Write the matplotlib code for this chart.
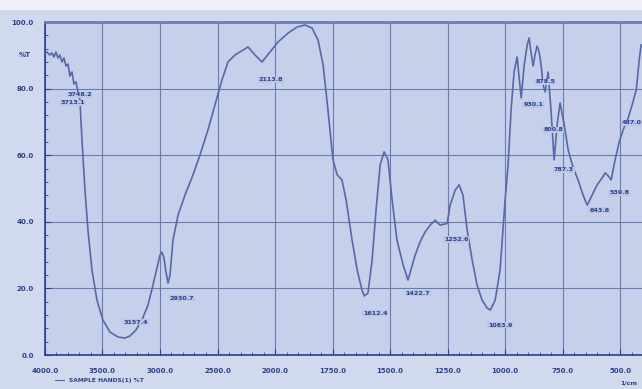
import numpy as np
import matplotlib.pyplot as plt
from matplotlib.lines import Line2D
from matplotlib.patches import Rectangle

# spectrum (wavenumber 1/cm, %T)
wn = [3983, 3957, 3939, 3922, 3904, 3887, 3870, 3852, 3835, 3817, 3800, 3783,
      3765, 3748, 3730, 3713, 3696, 3678, 3652, 3626, 3591, 3548, 3496, 3435,
      3365, 3304, 3261, 3209, 3157, 3104, 3061, 3026, 3000, 2983, 2965, 2948,
      2930, 2913, 2887, 2843, 2783, 2713, 2652, 2583, 2522, 2461, 2409, 2348,
      2278, 2235, 2174, 2113, 2043, 1987, 1943, 1904, 1870, 1839, 1813, 1791,
      1770, 1748, 1730, 1709, 1691, 1665, 1643, 1622, 1612, 1596, 1578, 1561,
      1543, 1526, 1509, 1491, 1470, 1443, 1422, 1391, 1370, 1348, 1326, 1304,
      1283, 1252, 1239, 1217, 1200, 1183, 1165, 1143, 1122, 1100, 1078, 1064,
      1043, 1022, 1000, 987, 974, 961, 948, 939, 930, 917, 904, 896, 887, 878,
      870, 861, 852, 843, 835, 826, 813, 800, 787, 774, 761, 743, 726, 704,
      683, 661, 643, 622, 600, 578, 565, 552, 539, 522, 504, 487, 465, 448,
      430, 417, 409]
tr = [91.0, 90.1, 90.7, 89.5, 91.0, 89.2, 90.1, 88.0, 89.2, 86.8, 87.4, 83.8,
      85.0, 81.4, 82.0, 79.0, 76.6, 64.6, 49.5, 37.5, 25.5, 16.5, 10.5, 6.9,
      5.4, 5.1, 5.7, 7.5, 10.5, 15.0, 21.0, 26.1, 30.0, 30.9, 29.1, 24.9,
      21.6, 24.0, 34.5, 42.0, 48.0, 54.1, 60.1, 67.6, 75.1, 82.6, 88.0, 90.1,
      91.6, 92.5, 90.1, 88.0, 91.0, 94.0, 96.7, 98.5, 99.1, 98.2, 94.6, 87.1,
      73.6, 58.6, 54.1, 52.6, 46.5, 34.5, 25.5, 19.5, 17.7, 18.6, 28.5, 43.5,
      57.1, 61.0, 58.6, 46.5, 34.5, 27.0, 22.5, 30.0, 33.9, 36.9, 39.0, 40.5,
      39.0, 39.5, 45.0, 49.5, 51.1, 48.0, 37.5, 28.5, 21.0, 16.5, 14.1, 13.5,
      16.5, 25.5, 46.5, 57.1, 73.6, 85.0, 89.5, 83.2, 77.2, 87.1, 93.1, 95.2,
      90.7, 86.8, 90.1, 92.8, 91.0, 86.8, 81.1, 79.0, 85.0, 73.0, 58.6, 69.1,
      75.7, 69.1, 61.6, 56.2, 52.6, 48.0, 45.0, 48.0, 51.1, 53.2, 54.7, 53.8,
      52.6, 58.6, 64.0, 67.6, 71.2, 75.1, 79.6, 88.6, 93.1]

# labelled peaks
pk_wn = [3748, 3713, 3157, 2930, 2113, 1612, 1422, 1252, 1064, 930, 878, 800,
         787, 643, 539, 487]
pk_tr = [81.4, 79.0, 10.5, 21.6, 88.0, 17.7, 22.5, 39.5, 13.5, 77.2, 86.8, 73.0,
         58.6, 45.0, 52.6, 67.6]
pk_txt = ['3748.2', '3713.1', '3157.4', '2930.7', '2113.8', '1612.4', '1422.7',
          '1252.6', '1063.9', '930.1', '878.5', '800.8', '787.3', '643.6',
          '539.8', '487.0']
pk_off = [(6, -11), (-5, -11), (-6, -2), (14, -15), (9, -18), (11, -17),
          (10, -13), (9, -16), (10, -15), (12, -7), (12, -16), (2, -18),
          (10, -10), (12, -5), (8, -13), (9, 7)]

x_major = [4000, 3500, 3000, 2500, 2000, 1750, 1500, 1250, 1000, 750, 500]
y_major = [0, 20, 40, 60, 80, 100]

BG = '#d1d9ee'
AX_BG = '#c6d0ea'
DARK = '#2c4189'
LINE = '#5669a6'
GRID = '#6a7db3'


def fwd(w):
    w = np.asarray(w, dtype=float)
    return np.where(w >= 2000, (w - 4000) / 500.0, -4 - (2000 - w) / 250.0)


def inv(q):
    q = np.asarray(q, dtype=float)
    return np.where(q >= -4, 4000 + 500 * q, 2000 + 250 * (q + 4))


fig = plt.figure(figsize=(6.42, 3.89), dpi=100, facecolor=BG)
fig.patches.append(Rectangle((0, 0.975), 1, 0.025, transform=fig.transFigure,
                             facecolor='#eef1f9', edgecolor='none', zorder=0))
ax = fig.add_axes([0.070, 0.0874, 0.93, 0.856])
ax.set_facecolor(AX_BG)

ax.set_xscale('function', functions=(fwd, inv))
ax.set_xlim(4000, 405)
ax.set_ylim(0, 100)

ax.plot(wn, tr, color=LINE, lw=1.2, zorder=3, solid_joinstyle='round')

for w, t, s, off in zip(pk_wn, pk_tr, pk_txt, pk_off):
    ax.annotate(s, (w, t), xytext=off, textcoords='offset pixels',
                ha='center', va='center', fontsize=4.6, fontweight='bold',
                color=DARK, zorder=4,
                bbox=dict(boxstyle='square,pad=0.12', fc='#b9c6e8', ec='none'))

# ticks
x_minor = [v for v in list(range(2100, 4000, 100)) + list(range(450, 2000, 50))
           if v not in x_major]
ax.set_xticks(x_major)
ax.set_xticklabels(['%.1f' % v for v in x_major])
ax.set_xticks(x_minor, minor=True)
ax.set_yticks(y_major)
ax.set_yticklabels(['%.1f' % v for v in y_major])
ax.set_yticks(np.arange(0, 101, 4), minor=True)
ax.tick_params(which='both', direction='in', colors=DARK, labelsize=5,
               labelcolor=DARK)
ax.tick_params(which='major', length=4, width=0.8)
ax.tick_params(which='minor', length=2, width=0.6)
ax.tick_params(axis='x', pad=9)
ax.tick_params(axis='y', pad=8)
for lab in ax.get_xticklabels() + ax.get_yticklabels():
    lab.set_fontweight('bold')

ax.grid(which='major', color=GRID, lw=0.8, zorder=1)
ax.set_axisbelow(True)

ax.text(-0.034, 90, '%T', transform=ax.get_yaxis_transform(), ha='center',
        va='center', fontsize=5, fontweight='bold', color=DARK)

for side in ['left', 'bottom']:
    ax.spines[side].set_color(DARK)
    ax.spines[side].set_linewidth(1.2)
ax.spines['top'].set_color(GRID)
ax.spines['top'].set_linewidth(2.0)
ax.spines['right'].set_visible(False)

# legend line and unit at bottom
fig.lines.append(Line2D([0.086, 0.100], [0.022, 0.022], transform=fig.transFigure,
                        color=LINE, lw=0.8))
fig.text(0.108, 0.022, 'SAMPLE HANDS(1) %T', fontsize=4.3, fontweight='bold',
         color=DARK, va='center')
fig.text(0.992, 0.015, '1/cm', fontsize=4.5, fontweight='bold', color=DARK,
         ha='right', va='center')

fig.savefig('out.png', dpi=100, facecolor=BG)
